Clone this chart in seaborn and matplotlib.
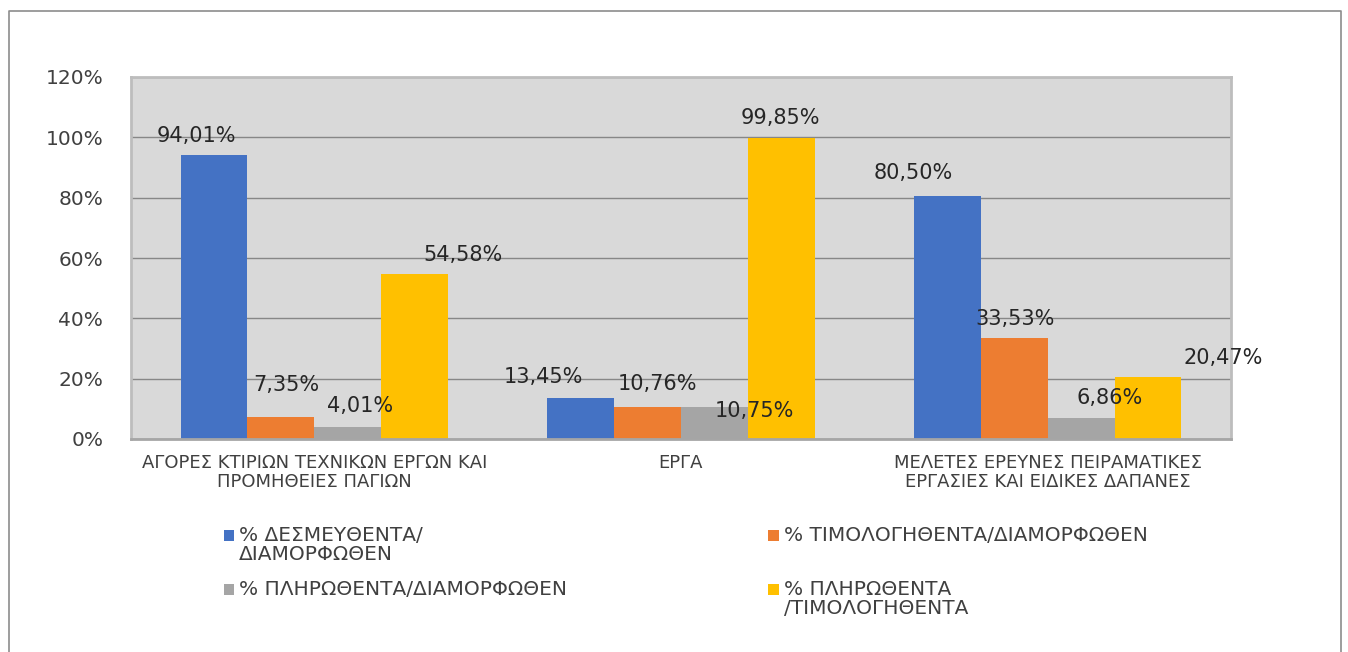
import pandas as pd
import matplotlib
matplotlib.use("Agg")
import matplotlib.pyplot as plt
from matplotlib.patches import Patch, Rectangle
from matplotlib.lines import Line2D
from matplotlib.legend_handler import HandlerPatch
from matplotlib.ticker import PercentFormatter
import seaborn as sns

# chart data
categories = [
    "ΑΓΟΡΕΣ ΚΤΙΡΙΩΝ ΤΕΧΝΙΚΩΝ ΕΡΓΩΝ ΚΑΙ\nΠΡΟΜΗΘΕΙΕΣ ΠΑΓΙΩΝ",
    "ΕΡΓΑ",
    "ΜΕΛΕΤΕΣ ΕΡΕΥΝΕΣ ΠΕΙΡΑΜΑΤΙΚΕΣ\nΕΡΓΑΣΙΕΣ ΚΑΙ ΕΙΔΙΚΕΣ ΔΑΠΑΝΕΣ",
]
series = [
    "% ΔΕΣΜΕΥΘΕΝΤΑ/\nΔΙΑΜΟΡΦΩΘΕΝ",
    "% ΤΙΜΟΛΟΓΗΘΕΝΤΑ/ΔΙΑΜΟΡΦΩΘΕΝ",
    "% ΠΛΗΡΩΘΕΝΤΑ/ΔΙΑΜΟΡΦΩΘΕΝ",
    "% ΠΛΗΡΩΘΕΝΤΑ\n/ΤΙΜΟΛΟΓΗΘΕΝΤΑ",
]
desmeuthenta = [0.9401, 0.1345, 0.8050]
timologithenta = [0.0735, 0.1076, 0.3353]
plirothenta_diam = [0.0401, 0.1075, 0.0686]
plirothenta_tim = [0.5458, 0.9985, 0.2047]
colors = ["#4472C4", "#ED7D31", "#A5A5A5", "#FFC000"]

# label nudges in pixels (dx, dy), the labels were dragged by hand in the original
label_offsets = [
    [(-18, 19), (-37, 21), (-34, 23)],
    [(5, 32), (10, 23), (1, 19)],
    [(12, 21), (40, -4), (28, 20)],
    [(48, 19), (-1, 20), (75, 19)],
]

rows = []
for name, vals in zip(series, [desmeuthenta, timologithenta, plirothenta_diam, plirothenta_tim]):
    for cat, v in zip(categories, vals):
        rows.append({"category": cat, "series": name, "value": v})
df = pd.DataFrame(rows)

sns.set_style("white")
plt.rcParams["font.family"] = ["DejaVu Sans"]

fig = plt.figure(figsize=(13.48, 6.52), dpi=100)
ax = fig.add_axes([131 / 1348, 1 - 439 / 652, 1100 / 1348, 362 / 652])

sns.barplot(data=df, x="category", y="value", hue="series", palette=colors,
            width=0.73, saturation=1, linewidth=0, ax=ax, legend=False,
            errorbar=None)

ax.set_facecolor("#D9D9D9")
ax.set_ylim(0, 1.2)
ax.set_yticks([0, 0.2, 0.4, 0.6, 0.8, 1.0, 1.2])
ax.yaxis.set_major_formatter(PercentFormatter(xmax=1, decimals=0))
ax.yaxis.grid(True, color="#878787", linewidth=1)
ax.set_axisbelow(True)
ax.set_xlabel("")
ax.set_ylabel("")
for s in ax.spines.values():
    s.set_color("#BDBDBD")
    s.set_linewidth(2)
ax.spines["bottom"].set_color("#A6A6A6")
ax.tick_params(axis="y", length=0, pad=20, labelsize=14.5, labelcolor="#404040")
ax.tick_params(axis="x", length=0, pad=11, labelsize=13, labelcolor="#404040")
for t in ax.get_xticklabels():
    t.set_linespacing(1.05)

# data labels
for i, cont in enumerate(ax.containers):
    for j, bar in enumerate(cont):
        h = bar.get_height()
        dx, dy = label_offsets[i][j]
        ax.annotate(f"{h * 100:.2f}%".replace(".", ","),
                    (bar.get_x() + bar.get_width() / 2, h),
                    xytext=(dx, dy), textcoords="offset pixels",
                    ha="center", va="center", fontsize=15, color="#262626")


# legend: marker next to the first line of each label
def first_line_patch(legend, orig_handle, xdescent, ydescent, width, height, fontsize):
    return Rectangle((-xdescent, -ydescent + 0.5 * fontsize), width, height)


order = [0, 2, 1, 3]
handles = [Patch(facecolor=colors[k], edgecolor="none") for k in order]
labels = [series[k] if "\n" in series[k] else series[k] + "\n " for k in order]
leg = fig.legend(handles, labels, loc="upper left", bbox_to_anchor=(224 / 1348, 1 - 526 / 652),
                 ncol=2, frameon=False, fontsize=14.5, handlelength=0.5, handleheight=0.5,
                 handletextpad=0.25, columnspacing=10.0, labelspacing=0.8,
                 borderpad=0, borderaxespad=0, labelcolor="#404040",
                 handler_map={Patch: HandlerPatch(patch_func=first_line_patch)})
for t in leg.get_texts():
    t.set_linespacing(1.0)

# chart border
fig.add_artist(Line2D([9 / 1348, 9 / 1348, 1341 / 1348, 1341 / 1348],
                      [0, 1 - 11 / 652, 1 - 11 / 652, 0],
                      color="#8C8C8C", linewidth=1.2, transform=fig.transFigure))

fig.savefig("out.png", dpi=100, facecolor="white")
